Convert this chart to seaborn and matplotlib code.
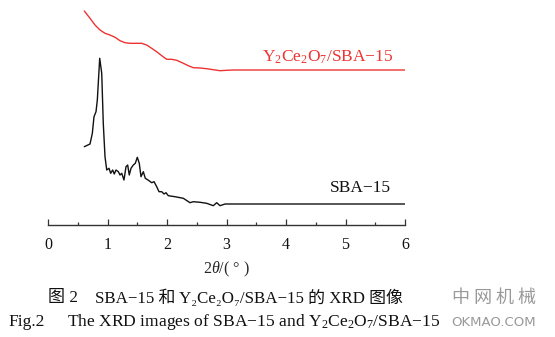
import matplotlib
matplotlib.use("Agg")
import matplotlib.pyplot as plt
import seaborn as sns
import pandas as pd
from matplotlib.ticker import MultipleLocator

# ---- data ----
sba_2theta = [0.610, 0.706, 0.745, 0.773, 0.807, 0.829, 0.869, 0.903, 0.929, 0.958,
              0.987, 1.025, 1.054, 1.087, 1.114, 1.143, 1.182, 1.210, 1.239, 1.277,
              1.311, 1.339, 1.366, 1.395, 1.434, 1.467, 1.501, 1.534, 1.563, 1.602,
              1.635, 1.681, 1.743, 1.782, 1.827, 1.866, 1.911, 1.950, 1.983, 2.022,
              2.134, 2.274, 2.387, 2.442, 2.555, 2.667, 2.778, 2.835, 2.891, 2.975, 6.0]
sba_int = [78.3, 81.0, 91.7, 108.3, 113.3, 125.0, 166.7, 151.7, 101.7, 68.3,
           55.0, 56.7, 51.7, 55.0, 51.0, 55.0, 53.3, 50.0, 51.7, 45.0,
           58.3, 60.0, 50.0, 56.7, 60.0, 61.7, 67.7, 61.7, 48.3, 53.3,
           46.7, 45.0, 42.3, 43.3, 38.3, 33.3, 33.3, 31.0, 32.3, 29.3,
           28.3, 26.7, 22.3, 23.3, 22.7, 21.7, 19.3, 22.3, 19.3, 21.0, 21.0]

yce_2theta = [0.610, 0.706, 0.790, 0.874, 0.958, 1.042, 1.126, 1.210, 1.294, 1.378,
              1.490, 1.574, 1.658, 1.742, 1.826, 1.911, 1.995, 2.079, 2.163, 2.275,
              2.358, 2.442, 2.555, 2.667, 2.779, 2.891, 3.003, 3.115, 6.0]
yce_int = [214.0, 206.7, 200.0, 195.0, 191.7, 190.0, 187.7, 184.3, 182.3, 181.7,
           181.7, 181.7, 180.0, 176.7, 173.3, 169.3, 165.7, 165.7, 164.7, 161.7,
           159.3, 157.3, 157.0, 156.3, 155.3, 154.3, 154.7, 155.0, 155.0]

x_ticks = [0, 1, 2, 3, 4, 5, 6]
x_label = r"2$\mathit{\theta}$/( ° )"
label_yce = r"Y$_2$Ce$_2$O$_7$/SBA−15"
label_sba = "SBA−15"
caption_cn_num = "图 2"
caption_cn = "SBA−15 和 Y₂Ce₂O₇/SBA−15 的 XRD 图像"
caption_en_num = "Fig.2"
caption_en = r"The XRD images of SBA−15 and Y$_2$Ce$_2$O$_7$/SBA−15"

sns.set_style("white")
plt.rcParams["font.family"] = ["Liberation Serif", "Noto Sans CJK SC", "DejaVu Sans"]
plt.rcParams["mathtext.fontset"] = "custom"
plt.rcParams["mathtext.rm"] = "Liberation Serif"
plt.rcParams["mathtext.it"] = "Liberation Serif:italic"

df = pd.concat([
    pd.DataFrame({"2theta": sba_2theta, "I": sba_int, "s": "SBA-15"}),
    pd.DataFrame({"2theta": yce_2theta, "I": yce_int, "s": "Y2Ce2O7/SBA-15"}),
])

fig = plt.figure(figsize=(5.55, 3.37), dpi=100)
ax = fig.add_axes([48 / 555, 1 - 225 / 337, 357 / 555, 225 / 337])
sns.lineplot(data=df, x="2theta", y="I", hue="s",
             palette={"SBA-15": "#111111", "Y2Ce2O7/SBA-15": "#ee3333"},
             sort=False, estimator=None, linewidth=1.0, legend=False, ax=ax)

ax.set_xlim(0, 6)
ax.set_ylim(0, 225)
ax.set_xticks(x_ticks)
ax.set_xticklabels([str(t) for t in x_ticks])
ax.xaxis.set_minor_locator(MultipleLocator(0.5))
ax.set_yticks([])
for s in ["top", "right", "left"]:
    ax.spines[s].set_visible(False)
ax.spines["bottom"].set_color("#333333")
ax.spines["bottom"].set_linewidth(1.0)
ax.tick_params(axis="x", which="major", direction="in", length=4, width=0.9,
               labelsize=11.5, pad=8.5, colors="#333333", labelcolor="#111111", bottom=True)
ax.tick_params(axis="x", which="minor", direction="in", length=2.2, width=0.9,
               colors="#333333", bottom=True)
ax.set_xlabel(x_label, fontsize=11.5, labelpad=5)
ax.set_ylabel("")
ax.patch.set_alpha(0)

ax.text(0.968, 0.745, label_yce, transform=ax.transAxes, ha="right", va="center",
        fontsize=12.5, color="#ee3333")
ax.text(0.96, 0.165, label_sba, transform=ax.transAxes, ha="right", va="center",
        fontsize=12.5, color="#111111")

fig.text(48 / 555, 1 - 298 / 337, caption_cn_num, ha="left", va="center", fontsize=12.3,
         color="#111111")
fig.text(95 / 555, 1 - 298 / 337, caption_cn, ha="left", va="center", fontsize=12.2,
         color="#111111")
fig.text(8 / 555, 1 - 322 / 337, caption_en_num, ha="left", va="center", fontsize=12.5,
         color="#111111")
fig.text(67 / 555, 1 - 322 / 337, caption_en, ha="left", va="center", fontsize=12.6,
         color="#111111")
fig.text(494 / 555, 1 - 298 / 337, "中 网 机 械", ha="center", va="center", fontsize=13,
         color="#999999", family=["Noto Sans CJK SC"])
fig.text(494 / 555, 1 - 322 / 337, "OKMAO.COM", ha="center", va="center", fontsize=9.5,
         color="#999999", family=["DejaVu Sans"])

fig.savefig("out.png", dpi=100)
